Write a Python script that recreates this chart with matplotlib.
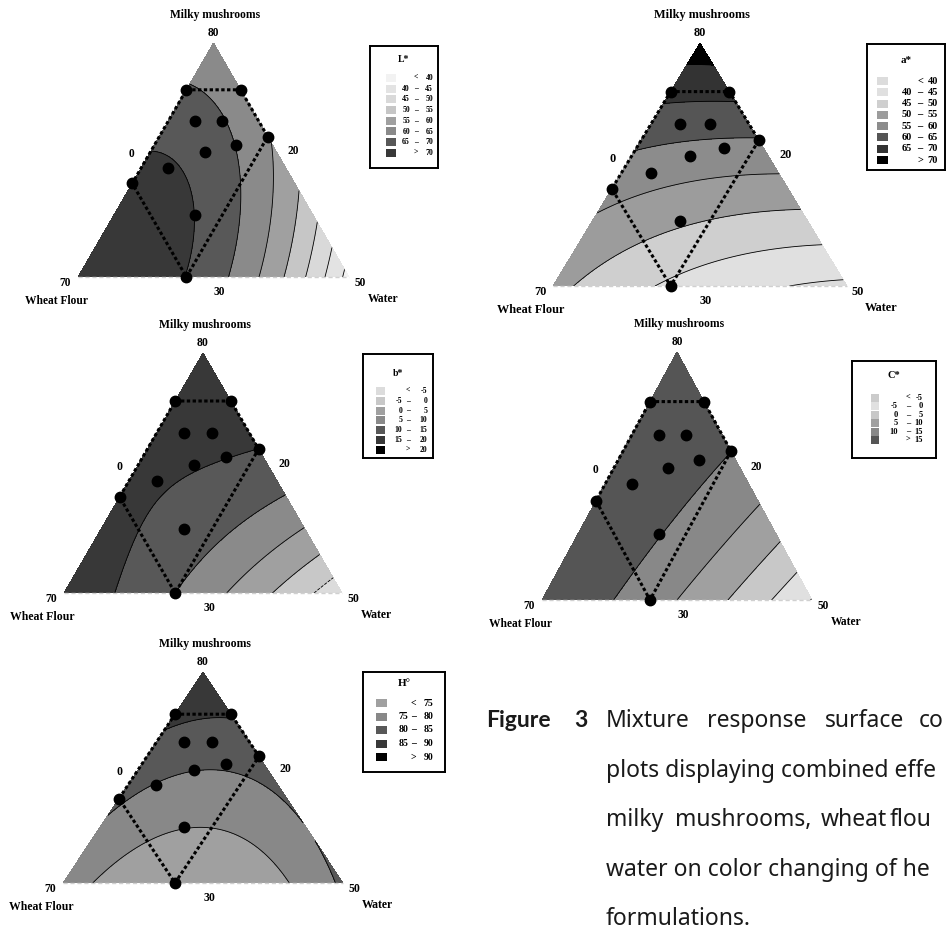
import numpy as np
import matplotlib.pyplot as plt
import matplotlib.tri as mtri
from matplotlib.patches import Rectangle

FIG_W, FIG_H = 946, 938
S3 = np.sqrt(3) / 2

# formulation design points (% milky mushrooms, % wheat flour, % water)
mushroom = [70, 70, 63.3, 63.3, 60, 58.3, 56.7, 53.3, 50, 43.3, 30]
flour = [30, 20, 31.7, 26.7, 20, 26.7, 33.3, 41.7, 50, 41.7, 50]
water = [0, 10, 5, 10, 20, 15, 10, 5, 0, 15, 20]

# vertices of the constrained experimental region
reg_mushroom = [70, 70, 60, 30, 50]
reg_flour = [30, 20, 20, 50, 50]
reg_water = [0, 10, 20, 20, 0]

# component lower bounds and the simplex range
low_mushroom, low_flour, low_water = 30, 20, 0
total_range = 50

# Scheffe quadratic model (pseudo components): b1, b2, b3, b12, b13, b23
coef_L = [60.5, 71.6, 38.1, 17.6, 37.1, 48.6]
coef_a = [73.0, 51.5, 39.1, -14.1, 1.0, -9.7]
coef_b = [17.7, 18.5, -8.6, -9.7, 32.5, 9.7]
coef_C = [18.0, 19.0, -5.2, 0.0, 26.3, 12.4]
coef_H = [90.0, 78.0, 81.0, -8.5, -17.5, -35.0]

levels_L = [40, 45, 50, 55, 60, 65, 70]
levels_a = [40, 45, 50, 55, 60, 65, 70]
levels_b = [-5, 0, 5, 10, 15, 20]
levels_C = [-5, 0, 5, 10, 15]
levels_H = [75, 80, 85, 90]

grey_L = ['#f2f2f2', '#e3e3e3', '#d9d9d9', '#c6c6c6', '#a0a0a0', '#8a8a8a', '#585858', '#383838']
grey_a = ['#dcdcdc', '#e0e0e0', '#cfcfcf', '#9c9c9c', '#8c8c8c', '#555555', '#333333', '#000000']
grey_b = ['#dcdcdc', '#c8c8c8', '#a0a0a0', '#8a8a8a', '#585858', '#383838', '#000000']
grey_C = ['#cbcbcb', '#e0e0e0', '#c8c8c8', '#a0a0a0', '#888888', '#555555']
grey_H = ['#a0a0a0', '#888888', '#585858', '#383838', '#000000']

SERIF = 'Liberation Serif'

fig = plt.figure(figsize=(FIG_W / 100, FIG_H / 100), dpi=100)
fig.patch.set_facecolor('white')

# triangular lattice over the simplex (a = mushroom, c = water)
n = 140
ii, jj = np.meshgrid(np.arange(n + 1), np.arange(n + 1), indexing='ij')
keep = ii + jj <= n
ga = ii[keep] / n
gc = jj[keep] / n
gb = 1 - ga - gc
tri = mtri.Triangulation(gc + ga / 2, ga * S3)


def to_xy(m, w):
    a = (np.asarray(m, float) - low_mushroom) / total_range
    c = (np.asarray(w, float) - low_water) / total_range
    return c + a / 2, a * S3


def response(coef, a, b, c):
    b1, b2, b3, b12, b13, b23 = coef
    return b1 * a + b2 * b + b3 * c + b12 * a * b + b13 * a * c + b23 * b * c


def px_axes(x0, y0, x1, y1):
    return fig.add_axes([x0 / FIG_W, 1 - y1 / FIG_H, (x1 - x0) / FIG_W, (y1 - y0) / FIG_H])


def label(ax, txt, xy, dx, dy, fs=8.5):
    ax.annotate(txt, xy=xy, xytext=(dx, -dy), textcoords='offset pixels',
                ha='center', va='center', fontsize=fs, fontweight='bold',
                family=SERIF, annotation_clip=False)


def draw_panel(box, coef, levels, greys, fs=8.5):
    ax = px_axes(*box)
    ax.set_xlim(0, 1)
    ax.set_ylim(0, S3)
    ax.axis('off')
    z = response(coef, ga, gb, gc)
    ax.tricontourf(tri, z, levels=[-1e4] + levels + [1e4], colors=greys)
    ax.tricontour(tri, z, levels=levels, colors='k', linewidths=0.6)
    ax.plot([0, 1], [0, 0], color='#d0d0d0', ls=(0, (3, 2)), lw=1, clip_on=False)

    rx, ry = to_xy(reg_mushroom + reg_mushroom[:1], reg_water + reg_water[:1])
    ax.plot(rx, ry, color='k', ls=(0, (1.1, 0.8)), lw=2.2, clip_on=False)
    px, py = to_xy(mushroom, water)
    ax.plot(px, py, 'o', color='k', ms=7.5, clip_on=False, zorder=5)

    top = low_mushroom + total_range
    label(ax, 'Milky mushrooms', (0.5, S3), 2, -28, fs)
    label(ax, str(top), (0.5, S3), 0, -10, fs)
    label(ax, str(low_water), (0.25, S3 / 2), -14, -6, fs)
    label(ax, str(low_flour), (0.75, S3 / 2), 12, -9, fs)
    label(ax, str(low_flour + total_range), (0, 0), -13, 6, fs)
    label(ax, str(low_mushroom), (0.5, 0), 6, 15, fs)
    label(ax, str(low_water + total_range), (1, 0), 11, 6, fs)
    label(ax, 'Wheat Flour', (0, 0), -22, 24, fs)
    label(ax, 'Water', (1, 0), 34, 22, fs)
    return ax


def legend_rows(levels):
    rows = [('', '<', str(levels[0]))]
    for lo, hi in zip(levels[:-1], levels[1:]):
        rows.append((str(lo), '\u2013', str(hi)))
    rows.append(('', '>', str(levels[-1])))
    return rows


def draw_legend(box, title, levels, greys, title_y, row0, step, cols, fs, tfs, sh=8):
    x0, y0, x1, y1 = box
    lax = px_axes(x0, y0, x1, y1)
    lax.set_xlim(0, x1 - x0)
    lax.set_ylim(y1 - y0, 0)
    lax.set_xticks([])
    lax.set_yticks([])
    for s in lax.spines.values():
        s.set_linewidth(1.4)
    lax.text((x1 - x0) / 2, title_y - y0, title, ha='center', va='center',
             fontsize=tfs, fontweight='bold', family=SERIF)
    sw0, sw1, lo_r, sym_c, hi_r = cols
    for k, ((lo, sym, hi), col) in enumerate(zip(legend_rows(levels), greys)):
        yy = row0 - y0 + k * step
        lax.add_patch(Rectangle((sw0, yy - sh / 2), sw1 - sw0, sh, facecolor=col, lw=0))
        kw = dict(va='center', fontsize=fs, fontweight='bold', family=SERIF)
        if lo:
            lax.text(lo_r, yy, lo, ha='right', **kw)
        lax.text(sym_c, yy, sym, ha='center', **kw)
        lax.text(hi_r, yy, hi, ha='right', **kw)


# panels: (base-left x, apex y, base-right x, base y) in pixels
draw_panel((78, 43, 349, 277), coef_L, levels_L, grey_L, 8.3)
draw_panel((553, 43, 847, 286), coef_a, levels_a, grey_a, 8.8)
draw_panel((64, 353, 342, 593), coef_b, levels_b, grey_b, 8.5)
draw_panel((542, 352, 812, 600), coef_C, levels_C, grey_C, 8.3)
draw_panel((63, 672, 343, 883), coef_H, levels_H, grey_H, 8.5)

draw_legend((370, 46, 438, 168), 'L*', levels_L, grey_L, 60, 78, 10.7,
            (16, 26, 40, 46, 63), 5.6, 7)
draw_legend((867, 44, 945, 170), 'a*', levels_a, grey_a, 60, 81, 11.3,
            (10, 21, 45, 53, 71), 7.5, 8)
draw_legend((363, 354, 433, 458), 'b*', levels_b, grey_b, 373, 391, 9.8,
            (13, 22, 39, 45, 64), 5.6, 7)
draw_legend((852, 361, 936, 458), 'C*', levels_C, grey_C, 375, 398, 8.4,
            (19, 27, 46, 56, 71), 6, 7.5)
draw_legend((363, 672, 445, 772), 'H\u00b0', levels_H, grey_H, 683, 703, 13.5,
            (13, 24, 45, 50, 70), 7, 8)

# caption (the source page is cropped at the right edge)
cap_kw = dict(fontsize=16.5, family='Noto Sans', va='baseline', color='#1a1a1a')
bold_kw = dict(fontsize=16.5, family='Lato', fontweight='bold', va='baseline', color='#1a1a1a')
base0, gap = 727, 49.5
fig.text(486 / FIG_W, 1 - base0 / FIG_H, 'Figure', **bold_kw)
fig.text(574 / FIG_W, 1 - base0 / FIG_H, '3', **bold_kw)
caption_words = [
    [('Mixture', 606), ('response', 707), ('surface', 825), ('co', 919)],
    [('plots displaying combined effe', 606)],
    [('milky', 606), ('mushrooms,', 675), ('wheat', 821), ('flou', 890)],
    [('water on color changing of he', 606)],
    [('formulations.', 606)],
]
for k, line in enumerate(caption_words):
    for word, x in line:
        fig.text(x / FIG_W, 1 - (base0 + k * gap) / FIG_H, word, **cap_kw)

fig.savefig('out.png', dpi=100, facecolor='white')
